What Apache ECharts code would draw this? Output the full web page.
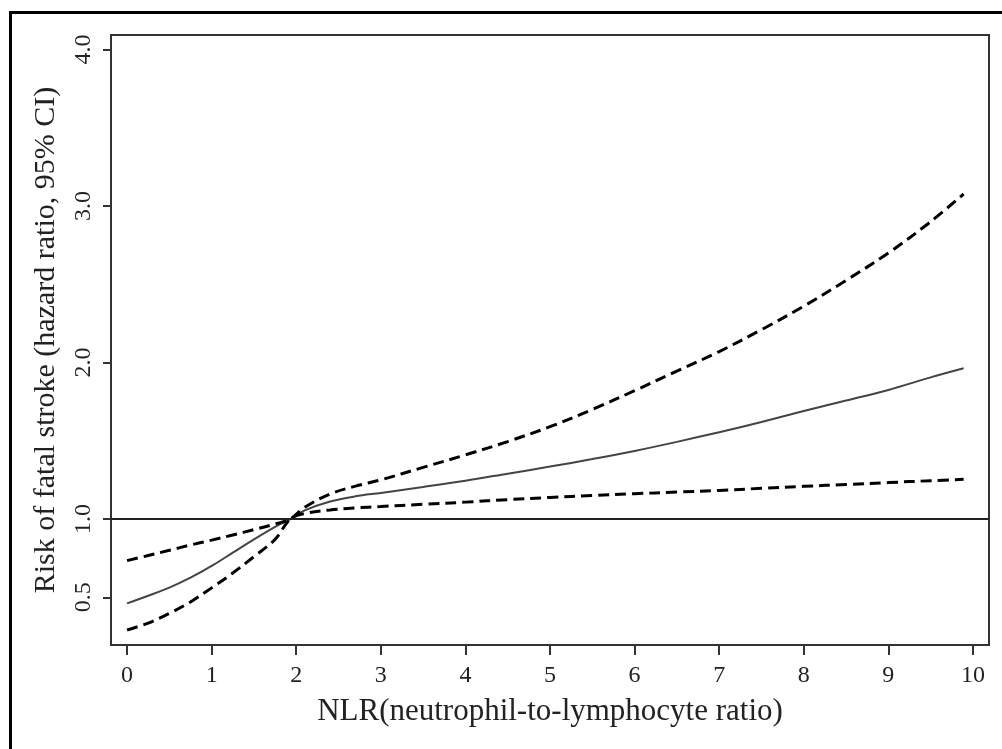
<!DOCTYPE html>
<html><head><meta charset="utf-8">
<script src="https://cdn.jsdelivr.net/npm/echarts@6/dist/echarts.min.js"></script>
<style>html,body{margin:0;padding:0;background:#fff}#c{width:1002px;height:749px}</style>
</head><body><div id="c"></div>
<script>
const nlr      = [0, 0.25, 0.5, 0.75, 1, 1.25, 1.5, 1.75, 1.93, 2.1, 2.4, 2.7, 3, 3.5, 4, 4.5, 5, 5.5, 6, 6.5, 7, 7.5, 8, 8.5, 9, 9.5, 9.89];
const hr       = [0.461, 0.51, 0.562, 0.625, 0.70, 0.785, 0.87, 0.95, 1.0, 1.055, 1.112, 1.145, 1.167, 1.205, 1.245, 1.29, 1.335, 1.383, 1.435, 1.493, 1.555, 1.62, 1.69, 1.757, 1.825, 1.905, 1.963];
const upperCI  = [0.734, 0.767, 0.80, 0.834, 0.865, 0.898, 0.932, 0.968, 1.0, 1.075, 1.16, 1.21, 1.25, 1.33, 1.41, 1.495, 1.59, 1.70, 1.82, 1.945, 2.07, 2.21, 2.36, 2.525, 2.70, 2.90, 3.077];
const lowerCI  = [0.291, 0.335, 0.397, 0.47, 0.56, 0.655, 0.76, 0.87, 1.0, 1.035, 1.058, 1.071, 1.08, 1.094, 1.108, 1.124, 1.138, 1.151, 1.162, 1.172, 1.183, 1.196, 1.209, 1.221, 1.233, 1.245, 1.254];
const xTicks   = [0, 1, 2, 3, 4, 5, 6, 7, 8, 9, 10];
const yTicks   = [0.5, 1.0, 2.0, 3.0, 4.0];
const refLine  = 1.0;

const pair = a => nlr.map((x, i) => [x, a[i]]);
const font = '"Liberation Serif", "DejaVu Serif", serif';
const chart = echarts.init(document.getElementById('c'));
chart.setOption({
  animation: false,
  backgroundColor: '#fff',
  graphic: [{
    type: 'rect', left: 8, top: 10, shape: {x: 0, y: 0, width: 1100, height: 800},
    style: {fill: 'none', stroke: '#000', lineWidth: 3}, silent: true
  }],
  grid: {left: 111, top: 35, right: 13, bottom: 104, show: true, borderColor: '#333', borderWidth: 2, backgroundColor: '#fff'},
  xAxis: {
    type: 'value', min: -0.19, max: 10.19,
    name: 'NLR(neutrophil-to-lymphocyte ratio)', nameLocation: 'middle', nameGap: 51,
    nameTextStyle: {fontFamily: font, fontSize: 31, color: '#222'},
    axisLine: {show: true, onZero: false, lineStyle: {color: '#333', width: 2}},
    axisTick: {show: true, inside: false, length: 10, customValues: xTicks, lineStyle: {color: '#333', width: 2}},
    axisLabel: {customValues: xTicks, fontFamily: font, fontSize: 24, color: '#222', margin: 19},
    splitLine: {show: false}
  },
  yAxis: {
    type: 'value', min: 0.195, max: 4.093,
    name: 'Risk of fatal stroke (hazard ratio, 95% CI)', nameLocation: 'middle', nameGap: 50, nameRotate: 90,
    nameTextStyle: {fontFamily: font, fontSize: 30, color: '#222'},
    axisLine: {show: true, onZero: false, lineStyle: {color: '#333', width: 2}},
    axisTick: {show: true, inside: false, length: 8, customValues: yTicks, lineStyle: {color: '#333', width: 2}},
    axisLabel: {customValues: yTicks, rotate: 90, fontFamily: font, fontSize: 24, color: '#222', margin: 15,
      formatter: v => v.toFixed(1)},
    splitLine: {show: false}
  },
  series: [
    {type: 'line', data: pair(hr), smooth: 0.35, showSymbol: false, lineStyle: {color: '#444', width: 2},
      markLine: {silent: true, symbol: 'none', label: {show: false}, lineStyle: {color: '#222', width: 2, type: 'solid'}, data: [{yAxis: refLine}]}},
    {type: 'line', data: pair(upperCI), smooth: 0.35, showSymbol: false, lineStyle: {color: '#000', width: 3, type: [11, 6]}},
    {type: 'line', data: pair(lowerCI), smooth: 0.35, showSymbol: false, lineStyle: {color: '#000', width: 3, type: [11, 6]}}
  ]
});
</script></body></html>
